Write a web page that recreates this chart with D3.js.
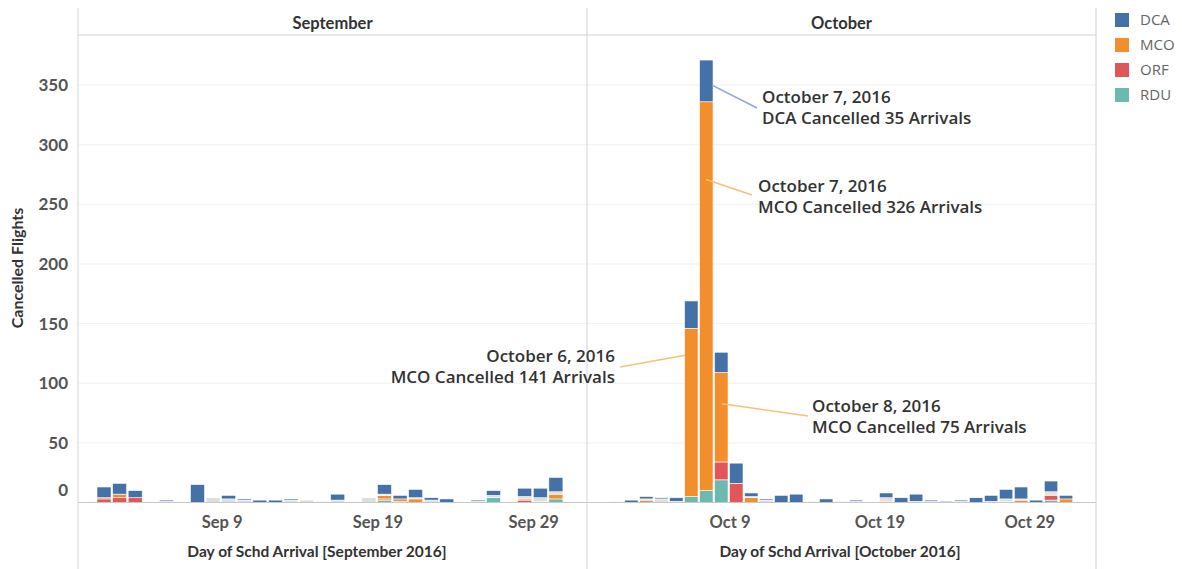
<!DOCTYPE html>
<html>
<head>
<meta charset="utf-8">
<script src="https://cdn.jsdelivr.net/npm/d3@7"></script>
<style>
  body { margin: 0; background: #fff; }
</style>
</head>
<body>
<script>
// ---- data ----
const airports = ["DCA", "MCO", "ORF", "RDU"];
const airportColours = ["#4472a8", "#f28e2b", "#e15759", "#6cb9b0"];

const septDays  = [1,2,3,4,5,6,7,8,9,10,11,12,13,14,15,16,17,18,19,20,21,22,23,24,25,26,27,28,29,30];
const septDCA   = [9,9,6,0,1,0,15,0,3,1,2,2,1,0,0,5,0,0,8,3,7,2,3,0,1,4,0,7,8,12];
const septMCO   = [1,3,0,0,0,0,0,0,0,0,0,0,0,0,0,0,0,0,3,2,3,0,0,0,0,0,0,1,0,4];
const septORF   = [3,4,4,0,0,0,0,0,0,0,0,0,0,0,0,0,0,0,1,0,0,0,0,0,0,0,0,2,0,0];
const septRDU   = [0,0,0,0,0,0,0,0,0,0,0,0,0,0,0,0,0,0,2,1,0,0,0,0,0,4,0,0,1,3];
const septFaded = [0,0,0,0,1,0,0,4,3,2,0,0,2,2,1,2,0,4,1,0,1,2,0,0,1,2,0,2,3,2]; // greyed-out marks

const octDays  = [1,2,3,4,5,6,7,8,9,10,11,12,13,14,15,16,17,18,19,20,21,22,23,24,25,26,27,28,29,30,31];
const octDCA   = [0,2,2,1,3,23,35,17,17,3,1,6,7,0,3,0,1,0,4,4,6,1,1,1,4,5,8,10,2,9,3];
const octMCO   = [0,0,2,0,0,141,326,75,0,4,0,0,0,0,0,0,0,0,1,0,0,0,0,0,0,0,0,2,0,1,3];
const octORF   = [0,0,0,0,0,0,0,15,16,0,0,0,0,0,0,0,0,0,1,0,0,0,0,0,0,0,0,0,0,4,0];
const octRDU   = [0,0,0,0,0,5,10,19,0,0,0,0,0,0,0,0,0,0,0,0,0,0,0,0,0,0,1,0,0,2,0];
const octFaded = [1,0,1,3,1,0,0,0,0,1,2,0,0,1,0,1,1,0,2,0,1,1,0,1,0,1,2,1,0,2,0];

const tickDays = [9, 19, 29];
const yTicks = [0, 50, 100, 150, 200, 250, 300, 350];

const annotations = [
  { month: 9, day: 7, key: "DCA", t: 0.4, dx: 12, lines: ["October 7, 2016", "DCA Cancelled 35 Arrivals"],
    tx: 762, ty: 103, anchor: "start", lx: 757, ly: 108, colour: "#8aa9cf" },
  { month: 9, day: 7, key: "MCO", t: 0.8, dx: 6, lines: ["October 7, 2016", "MCO Cancelled 326 Arrivals"],
    tx: 758, ty: 192, anchor: "start", lx: 752, ly: 195, colour: "#f6bf7c" },
  { month: 9, day: 6, key: "MCO", t: 0.84, dx: 0, lines: ["October 6, 2016", "MCO Cancelled 141 Arrivals"],
    tx: 615, ty: 362, anchor: "end", lx: 620, ly: 367, colour: "#f6bf7c" },
  { month: 9, day: 8, key: "MCO", t: 0.65, dx: 7, lines: ["October 8, 2016", "MCO Cancelled 75 Arrivals"],
    tx: 812, ty: 412, anchor: "start", lx: 808, ly: 416, colour: "#f6bf7c" }
];

// ---- layout ----
const svgWidth = 1182, svgHeight = 569;
const headerBottom = 35, baseY = 502.5;
const stackKeys = ["RDU", "ORF", "MCO", "faded", "DCA"]; // bottom -> top
const colourOf = k => k === "faded" ? "#dedede" : airportColours[airports.indexOf(k)];

const panels = [
  { name: "September", month: 8, title: "Day of Schd Arrival [September 2016]", titleX: 317, left: 78, right: 587,
    domain: [new Date(2016, 7, 30, 18), new Date(2016, 9, 2, 10)],
    days: septDays, DCA: septDCA, MCO: septMCO, ORF: septORF, RDU: septRDU, faded: septFaded },
  { name: "October", month: 9, title: "Day of Schd Arrival [October 2016]", titleX: 840, left: 587, right: 1096,
    domain: [new Date(2016, 8, 29, 11), new Date(2016, 10, 2, 10)],
    days: octDays, DCA: octDCA, MCO: octMCO, ORF: octORF, RDU: octRDU, faded: octFaded }
];

const yScale = d3.scaleLinear().domain([0, 392]).range([baseY, headerBottom]);
const tickFormat = d3.timeFormat("%b %-d");

const svg = d3.select("body").append("svg")
  .attr("width", svgWidth)
  .attr("height", svgHeight)
  .attr("font-family", "Lato, sans-serif");

// gridlines
svg.selectAll(".grid").data(yTicks.filter(d => d > 0)).enter().append("line")
  .attr("x1", 78).attr("x2", 1096)
  .attr("y1", d => yScale(d)).attr("y2", d => yScale(d))
  .attr("stroke", "#f1f1f1");

// y tick labels (Tableau pushes the 0 label up inside the pane)
svg.selectAll(".ylab").data(yTicks).enter().append("text")
  .attr("x", 68)
  .attr("y", d => d === 0 ? yScale(d) - 12 : yScale(d))
  .attr("dy", "0.35em")
  .attr("text-anchor", "end")
  .attr("font-size", 17).attr("font-weight", 700).attr("fill", "#555")
  .text(d => d);

svg.append("text") // y axis title
  .attr("transform", "translate(23," + 268 + ") rotate(-90)")
  .attr("text-anchor", "middle")
  .attr("font-size", 16).attr("font-weight", 700).attr("fill", "#333")
  .text("Cancelled Flights");

const scales = {};

panels.forEach(p => {
  const xScale = d3.scaleTime().domain(p.domain).range([p.left, p.right]);
  scales[p.month] = xScale;

  const rows = p.days.map((d, i) => ({
    day: d, DCA: p.DCA[i], MCO: p.MCO[i], ORF: p.ORF[i], RDU: p.RDU[i], faded: p.faded[i]
  }));
  p.series = d3.stack().keys(stackKeys)(rows);

  const g = svg.append("g").attr("class", "panel");

  g.selectAll("g.layer").data(p.series).enter().append("g")
    .attr("class", "layer")
    .attr("fill", s => colourOf(s.key))
    .selectAll("rect").data(s => s.filter(d => d[1] > d[0])).enter().append("rect")
    .attr("x", d => xScale(new Date(2016, p.month, d.data.day)) - 0.5)
    .attr("width", d => xScale(new Date(2016, p.month, d.data.day + 1)) - xScale(new Date(2016, p.month, d.data.day)) - 1.5)
    .attr("y", d => yScale(d[1]))
    .attr("height", d => yScale(d[0]) - yScale(d[1]))
    .attr("stroke", "#fff").attr("stroke-width", 0.6);

  // x tick labels
  g.selectAll(".xlab").data(tickDays).enter().append("text")
    .attr("x", d => xScale(new Date(2016, p.month, d)))
    .attr("y", 528)
    .attr("text-anchor", "middle")
    .attr("font-size", 16.5).attr("font-weight", 700).attr("fill", "#555")
    .text(d => tickFormat(new Date(2016, p.month, d)));

  g.append("text") // axis title
    .attr("x", p.titleX)
    .attr("y", 557)
    .attr("text-anchor", "middle")
    .attr("font-size", 15.5).attr("font-weight", 700).attr("fill", "#333")
    .text(p.title);

  g.append("text") // header
    .attr("x", (p.left + p.right) / 2)
    .attr("y", 29)
    .attr("text-anchor", "middle")
    .attr("font-size", 16.5).attr("font-weight", 700).attr("fill", "#333")
    .text(p.name);
});

// frame lines
svg.append("line").attr("x1", 78).attr("x2", 1096).attr("y1", headerBottom).attr("y2", headerBottom).attr("stroke", "#d4d4d4");
svg.append("line").attr("x1", 78).attr("x2", 1096).attr("y1", baseY).attr("y2", baseY).attr("stroke", "#c8c8c8");
[78, 587, 1096].forEach(x => {
  svg.append("line").attr("x1", x).attr("x2", x).attr("y1", 8).attr("y2", svgHeight).attr("stroke", "#d4d4d4");
});

// annotations
annotations.forEach(a => {
  const p = panels.find(q => q.month === a.month);
  const seg = p.series.find(s => s.key === a.key)[p.days.indexOf(a.day)];
  const ax = scales[a.month](new Date(2016, a.month, a.day)) + a.dx;
  const ay = yScale(seg[0] + a.t * (seg[1] - seg[0]));

  svg.append("line")
    .attr("x1", ax).attr("y1", ay).attr("x2", a.lx).attr("y2", a.ly)
    .attr("stroke", a.colour).attr("stroke-width", 1.5);

  svg.append("g").selectAll("text").data(a.lines).enter().append("text")
    .attr("x", a.tx)
    .attr("y", (d, i) => a.ty + i * 21)
    .attr("text-anchor", a.anchor)
    .attr("font-family", "'Open Sans', sans-serif")
    .attr("font-size", 17).attr("font-weight", 600).attr("fill", "#333")
    .text(d => d);
});

// legend
const legend = svg.selectAll(".legend").data(airports).enter().append("g")
  .attr("class", "legend")
  .attr("transform", (d, i) => "translate(1115," + (13 + i * 25) + ")");

legend.append("rect")
  .attr("width", 14).attr("height", 14)
  .attr("fill", (d, i) => airportColours[i]);

legend.append("text")
  .attr("x", 25).attr("y", 7).attr("dy", "0.35em")
  .attr("font-family", "'Open Sans', sans-serif")
  .attr("font-size", 15).attr("fill", "#666")
  .text(d => d);
</script>
</body>
</html>
